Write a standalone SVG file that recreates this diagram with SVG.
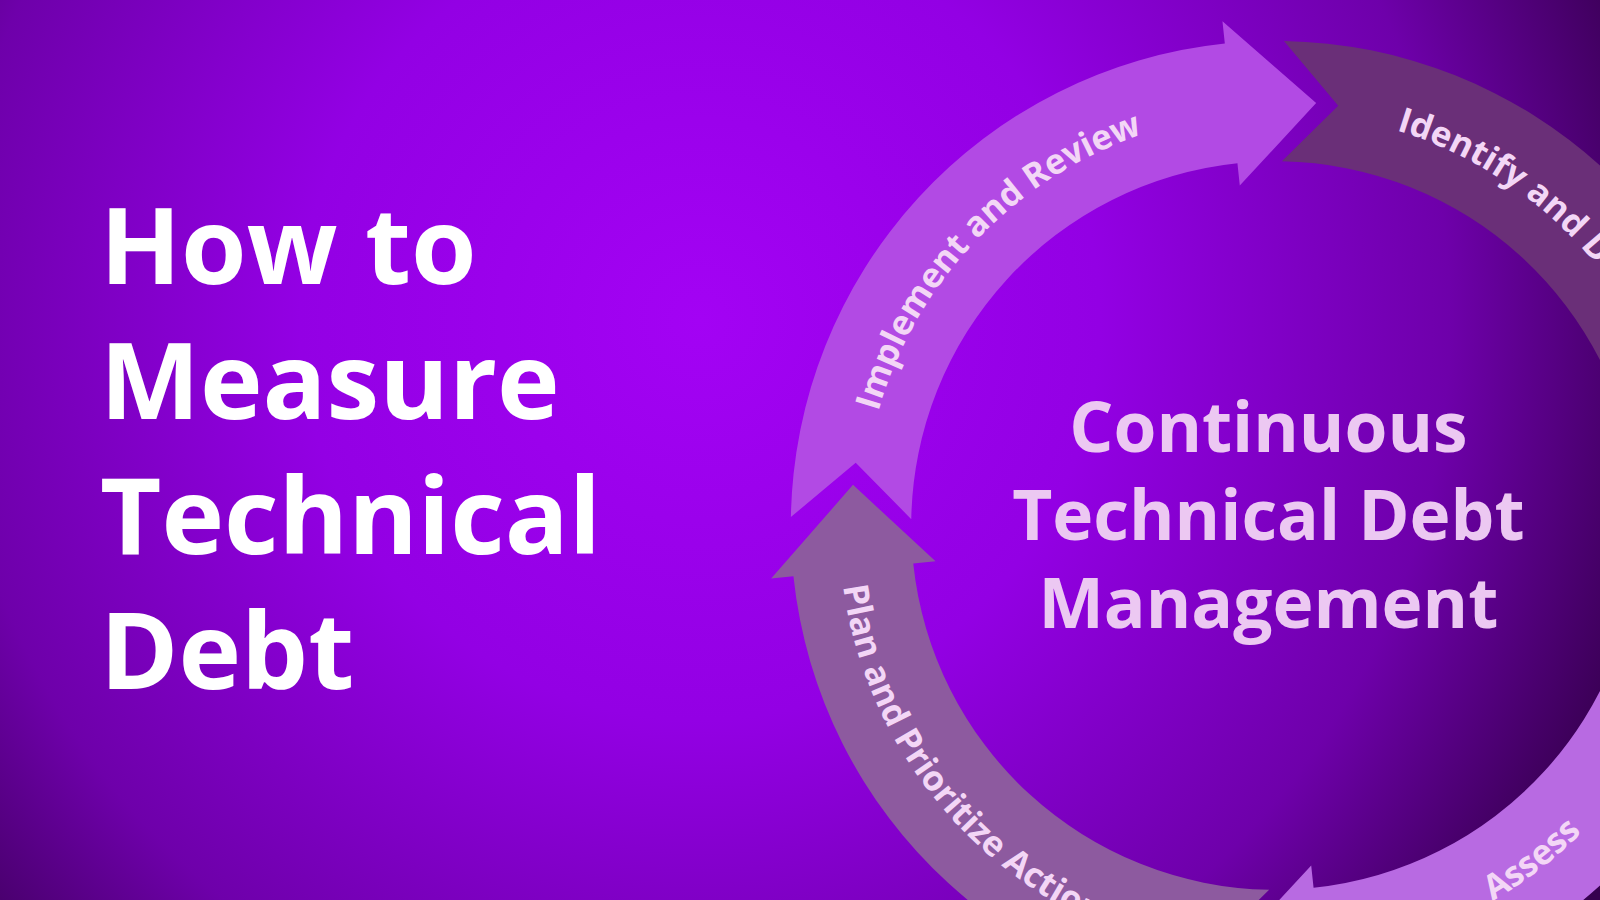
<svg xmlns="http://www.w3.org/2000/svg" xmlns:xlink="http://www.w3.org/1999/xlink" width="1600" height="900" viewBox="0 0 1600 900">
<style>
.title{font-family:"Open Sans","Liberation Sans",sans-serif;font-weight:700;font-size:106px;fill:#ffffff}
.center{font-family:"Open Sans","Liberation Sans",sans-serif;font-weight:700;font-size:68px;fill:#ecc8f2;text-anchor:middle}
.lbl{font-family:"Open Sans","Liberation Sans",sans-serif;font-weight:700;font-size:34px;fill:#f3d6f6}
</style>
<defs>
<radialGradient id="bg" cx="700" cy="320" r="1000" gradientUnits="userSpaceOnUse">
<stop offset="0" stop-color="#a302f4"/>
<stop offset="0.4" stop-color="#9300e4"/>
<stop offset="0.75" stop-color="#6e00aa"/>
<stop offset="1" stop-color="#36004e"/>
</radialGradient>
<path id="arrow" d="M475,0 A475,475 0 0 1 57.9,471.5 L60.6,493.3 L-32.6,414.7 L40.8,332.5 L43.5,354.3 A357,357 0 0 0 357,0 L412.4,54.3 Z"/>
<path id="pImpl" d="M-389.3,-111.6 A405,405 0 0 1 35.3,-403.5"/>
<path id="pIdent" d="M118.4,-387.3 A405,405 0 0 1 380.6,138.5"/>
<path id="pPlan" d="M-423.8,59.6 A428,428 0 0 0 -37.3,426.4"/>
<path id="pAssess" d="M212.5,368.1 A425,425 0 0 0 418.5,73.8"/>
</defs>
<rect width="1600" height="900" fill="url(#bg)"/>
<g id="title">
<text class="title" x="100" y="284">How to</text>
<text class="title" x="100" y="419">Measure</text>
<text class="title" x="100" y="554">Technical</text>
<text class="title" x="100" y="689">Debt</text>
</g>
<g transform="scale(1.0204)">
<g transform="translate(1250,515)">
<g id="connectors">
<use id="seg-implement" xlink:href="#arrow" transform="rotate(181)" fill="#b24ae4"/>
<use id="seg-identify" xlink:href="#arrow" transform="rotate(271)" fill="#6a2f78"/>
<use id="seg-assess" xlink:href="#arrow" transform="rotate(1)" fill="#b86ae2"/>
<use id="seg-plan" xlink:href="#arrow" transform="rotate(91)" fill="#8d5a9f"/>
</g>
<g id="labels">
<text class="lbl"><textPath xlink:href="#pImpl">Implement and Review</textPath></text>
<text class="lbl"><textPath xlink:href="#pIdent">Identify and Document</textPath></text>
<text class="lbl"><textPath xlink:href="#pPlan">Plan and Prioritize Actions</textPath></text>
<text class="lbl"><textPath xlink:href="#pAssess">Assess</textPath></text>
</g>
</g>
<g id="center-text">
<text class="center" x="1243" y="443">Continuous</text>
<text class="center" x="1243" y="529">Technical Debt</text>
<text class="center" x="1243" y="615">Management</text>
</g>
</g>
</svg>
